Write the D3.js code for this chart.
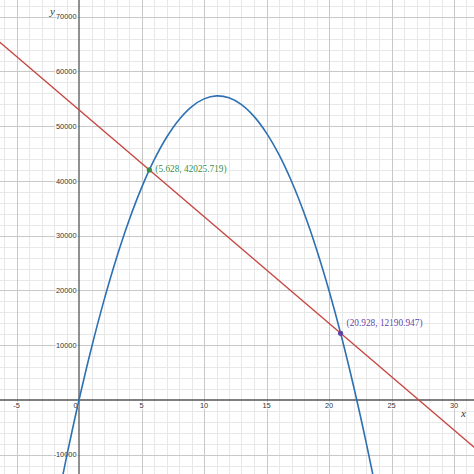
<!DOCTYPE html>
<html><head><meta charset="utf-8">
<script src="https://cdn.jsdelivr.net/npm/d3@7"></script>
<style>
html,body{margin:0;padding:0;background:#fff;}
svg{display:block;}
</style></head>
<body>
<svg id="c" width="474" height="474"></svg>
<script>
// Data
const parabolaX = [-2,-1,0,1,2,3,4,5,6,7,8,9,10,11,12,13,14,15,16,17,18,19,20,21,22,23,24];
const parabolaY = [-21800,-10450,0,9550,18200,25950,32800,38750,43800,47950,51200,53550,55000,55550,55200,53950,51800,48750,44800,39950,34200,27550,20000,11550,2200,-8050,-19200];
const lineX = [-7, 33];
const lineY = [66650, -11350];
const pointX = [5.628, 20.928];
const pointY = [42025.719, 12190.947];
const pointLabels = ["(5.628, 42025.719)", "(20.928, 12190.947)"];
const pointColors = ["#388c46", "#6042a6"];
const xTicks = [-5, 0, 5, 10, 15, 20, 25, 30];
const yTicks = [-10000, 10000, 20000, 30000, 40000, 50000, 60000, 70000];

const W = 474, H = 474;
const x = d3.scaleLinear().domain([-6.32, 31.6]).range([0, W]);
const y = d3.scaleLinear().domain([-13516, 73059]).range([H, 0]);
const svg = d3.select("#c");

// grid
const minorX = d3.range(-6, 32, 1), minorY = d3.range(-12000, 74000, 2000);
const g = svg.append("g");
g.selectAll(".mx").data(minorX.filter(v => v % 5 !== 0)).join("line")
  .attr("x1", d => Math.round(x(d)) + 0.5).attr("x2", d => Math.round(x(d)) + 0.5)
  .attr("y1", 0).attr("y2", H).attr("stroke", "#e8e8e8").attr("stroke-width", 1);
g.selectAll(".my").data(minorY.filter(v => v % 10000 !== 0)).join("line")
  .attr("y1", d => Math.round(y(d)) + 0.5).attr("y2", d => Math.round(y(d)) + 0.5)
  .attr("x1", 0).attr("x2", W).attr("stroke", "#e8e8e8").attr("stroke-width", 1);
g.selectAll(".Mx").data(minorX.filter(v => v % 5 === 0 && v !== 0)).join("line")
  .attr("x1", d => Math.round(x(d)) + 0.5).attr("x2", d => Math.round(x(d)) + 0.5)
  .attr("y1", 0).attr("y2", H).attr("stroke", "#c8c8c8").attr("stroke-width", 1);
g.selectAll(".My").data(minorY.filter(v => v % 10000 === 0 && v !== 0)).join("line")
  .attr("y1", d => Math.round(y(d)) + 0.5).attr("y2", d => Math.round(y(d)) + 0.5)
  .attr("x1", 0).attr("x2", W).attr("stroke", "#c8c8c8").attr("stroke-width", 1);

// axes
svg.append("line").attr("x1", 0).attr("x2", W).attr("y1", y(0)).attr("y2", y(0))
  .attr("stroke", "#555").attr("stroke-width", 1.3);
svg.append("line").attr("y1", 0).attr("y2", H).attr("x1", x(0)).attr("x2", x(0))
  .attr("stroke", "#555").attr("stroke-width", 1.3);

// tick labels
const lab = svg.append("g").attr("font-family", "Liberation Sans, Arial, sans-serif")
  .attr("font-size", 7.4).attr("fill", "#333")
  .attr("stroke", "#fff").attr("stroke-width", 2.2).attr("paint-order", "stroke");
lab.selectAll(".xt").data(xTicks).join("text")
  .attr("x", d => d === 0 ? x(0) - 3.5 : x(d)).attr("y", y(0) + 8)
  .attr("text-anchor", "middle").text(d => d);
lab.selectAll(".yt").data(yTicks).join("text")
  .attr("x", x(0) - 2.5).attr("y", d => y(d) + 2.7)
  .attr("text-anchor", "end").text(d => d);

svg.append("text").attr("x", x(0) - 29).attr("y", 15).attr("font-family", "Liberation Serif, Times New Roman, serif")
  .attr("font-style", "italic").attr("font-size", 11).attr("fill", "#333").text("y");
svg.append("text").attr("x", 461).attr("y", 417).attr("font-family", "Liberation Serif, Times New Roman, serif")
  .attr("font-style", "italic").attr("font-size", 11).attr("fill", "#333").text("x");

// curves
const par = parabolaX.map((d, i) => [d, parabolaY[i]]);
svg.append("path").datum(par)
  .attr("d", d3.line().x(d => x(d[0])).y(d => y(d[1])).curve(d3.curveCatmullRom.alpha(0.5)))
  .attr("fill", "none").attr("stroke", "#2d70b3").attr("stroke-width", 1.6);
const ln = lineX.map((d, i) => [d, lineY[i]]);
svg.append("path").datum(ln)
  .attr("d", d3.line().x(d => x(d[0])).y(d => y(d[1])))
  .attr("fill", "none").attr("stroke", "#c74440").attr("stroke-width", 1.4);

// points
const labelDy = [2.5, -7];
pointX.forEach((px, i) => {
  svg.append("circle").attr("cx", x(px)).attr("cy", y(pointY[i])).attr("r", 2.6).attr("fill", pointColors[i]);
  svg.append("text").attr("x", x(px) + 6).attr("y", y(pointY[i]) + labelDy[i])
    .attr("font-family", "Liberation Serif, Times New Roman, serif").attr("font-size", 9.3)
    .attr("fill", pointColors[i]).attr("stroke", "#fff").attr("stroke-width", 2.2).attr("paint-order", "stroke")
    .text(pointLabels[i]);
});
</script>
</body></html>
